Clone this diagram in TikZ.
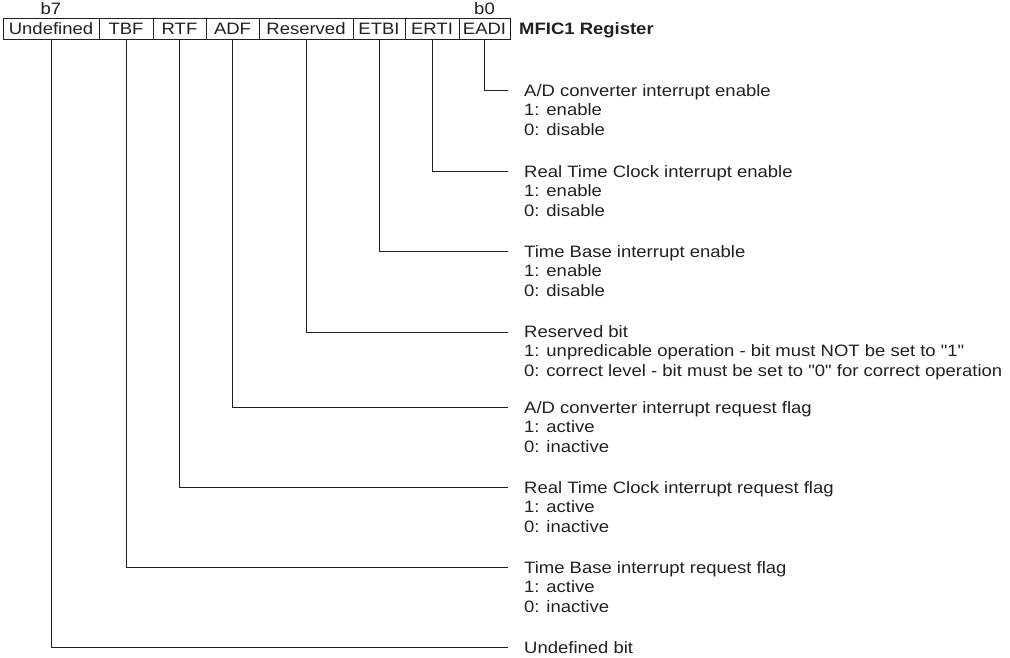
\documentclass[tikz,border=0pt]{standalone}
\usepackage{fontspec}
\setmainfont{Liberation Sans}[FakeStretch=1.12, Ligatures=TeXOff]
\definecolor{ink}{RGB}{35,31,32}
\newcommand{\desclines}[1]{\begin{tabular}[t]{@{}l@{}}#1\end{tabular}}
\begin{document}
\begin{tikzpicture}[x=1pt,y=-1pt,
  every node/.style={font=\fontsize{16.5}{19.5}\selectfont, text=ink},
  cell/.style={draw=ink, line width=1pt, minimum height=21pt, inner sep=0pt, anchor=center},
  desc/.style={anchor=base west, inner sep=0pt},
  conn/.style={draw=ink, line width=1pt}]
\useasboundingbox (0,0) rectangle (1010,657);
% register cells
\node[cell, minimum width=96pt] (c7) at (51,28.5) {Undefined};
\node[cell, minimum width=54pt] (c6) at (126,28.5) {TBF};
\node[cell, minimum width=53pt] (c5) at (179.5,28.5) {RTF};
\node[cell, minimum width=53pt] (c4) at (232.5,28.5) {ADF};
\node[cell, minimum width=94pt] (c3) at (306,28.5) {Reserved};
\node[cell, minimum width=52pt] (c2) at (379,28.5) {ETBI};
\node[cell, minimum width=54pt] (c1) at (432,28.5) {ERTI};
\node[cell, minimum width=51pt] (c0) at (484.5,28.5) {EADI};
\node[anchor=base, inner sep=0pt] (b7) at (51,14.5) {b7};
\node[anchor=base, inner sep=0pt] (b0) at (484.5,14.5) {b0};
\node[anchor=base west, inner sep=0pt, font=\fontsize{16.5}{19.5}\selectfont\bfseries] (title) at (519,34.5) {MFIC1 Register};
% descriptions
\node[desc] (d0) at (524,96) {\desclines{A/D converter interrupt enable\\1: enable\\0: disable}};
\node[desc] (d1) at (524,177) {\desclines{Real Time Clock interrupt enable\\1: enable\\0: disable}};
\node[desc] (d2) at (524,257) {\desclines{Time Base interrupt enable\\1: enable\\0: disable}};
\node[desc] (d3) at (524,337) {\desclines{Reserved bit\\1: unpredicable operation - bit must NOT be set to "1"\\0: correct level - bit must be set to "0" for correct operation}};
\node[desc] (d4) at (524,413) {\desclines{A/D converter interrupt request flag\\1: active\\0: inactive}};
\node[desc] (d5) at (524,493) {\desclines{Real Time Clock interrupt request flag\\1: active\\0: inactive}};
\node[desc] (d6) at (524,573) {\desclines{Time Base interrupt request flag\\1: active\\0: inactive}};
\node[desc] (d7) at (524,653) {Undefined bit};
% connector end points
\coordinate (e0) at (508,90);
\coordinate (e1) at (508,171);
\coordinate (e2) at (508,251);
\coordinate (e3) at (508,332);
\coordinate (e4) at (508,407);
\coordinate (e5) at (508,487);
\coordinate (e6) at (508,567);
\coordinate (e7) at (508,647);
\draw[conn] (c0.south) |- (e0);
\draw[conn] (c1.south) |- (e1);
\draw[conn] (c2.south) |- (e2);
\draw[conn] (c3.south) |- (e3);
\draw[conn] (c4.south) |- (e4);
\draw[conn] (c5.south) |- (e5);
\draw[conn] (c6.south) |- (e6);
\draw[conn] (c7.south) |- (e7);
\end{tikzpicture}
\end{document}
